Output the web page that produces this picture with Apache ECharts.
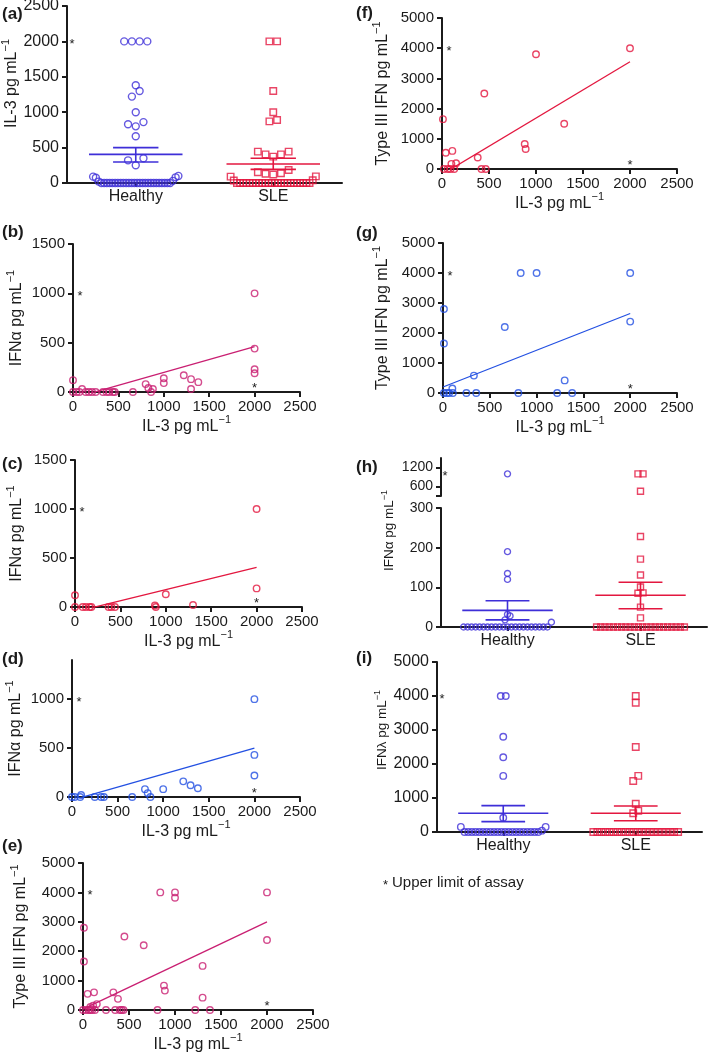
<!DOCTYPE html>
<html><head><meta charset="utf-8">
<script src="https://cdn.jsdelivr.net/npm/echarts@6/dist/echarts.min.js"></script>
<style>html,body{margin:0;padding:0;background:#fff}#c{width:709px;height:1057px}</style>
</head><body><div id="c"></div>
<script>
// ---------------- DATA ----------------
const groups = ['Healthy', 'SLE'];
// (a) IL-3 pg/mL
const il3Healthy = [2000,2000,2000,2000,1380,1300,1220,1000,860,830,800,660,350,320,250,100,90,80,75,30,20,
  0,0,0,0,0,0,0,0,0,0,0,0,0,0,0,0,0,0,0,0,0,0,0,0,0,0];
const il3SLE = [2000,2000,1300,1000,890,870,443,443,405,405,372,184,151,137,130,120,93,90,38,35,
  0,0,0,0,0,0,0,0,0,0,0,0,0,0,0,0,0,0,0,0,0,0,0,0];
const il3Mean = [405, 268], il3SemLo = [297, 193], il3SemHi = [499, 349];
// (h) IFN-alpha pg/mL
const ifnaHealthy = [1000,190,135,120,32,28,18,12,0,0,0,0,0,0,0,0,0,0,0,0,0,0,0,0,0,0,0,0,0,0];
const ifnaSLE = [1000,1000,450,228,171,131,101,86,85,50,23,0,0,0,0,0,0,0,0,0,0,0,0,0,0,0,0,0,0,0,0,0,0];
const ifnaMean = [42, 80], ifnaSemLo = [18, 46], ifnaSemHi = [66, 113];
// (i) IFN-lambda pg/mL
const ifnlHealthy = [4000,4000,2800,2200,1650,420,150,150,40,0,0,0,0,0,0,0,0,0,0,0,0,0,0,0,0,0,0,0,0,0];
const ifnlSLE = [4000,3800,2500,1650,1500,830,620,550,0,0,0,0,0,0,0,0,0,0,0,0,0,0,0,0,0,0,0,0,0,0];
const ifnlMean = [550, 550], ifnlSemLo = [305, 332], ifnlSemHi = [775, 765];
// (b) all, (c) SLE, (d) healthy : [IL-3, IFN-alpha]
const allIl3Ifna = [[0,120],[0,0],[40,0],[70,0],[100,30],[140,0],[175,0],[210,0],[250,0],[330,0],[370,0],[400,0],[440,0],[460,0],[660,0],
  [800,80],[830,40],[860,0],[880,30],[1000,140],[1000,90],[1220,170],[1300,130],[1300,30],[1380,100],[2000,1000],[2000,440],[2000,230],[2000,190]];
const sleIl3Ifna = [[0,120],[0,0],[85,0],[120,0],[160,0],[180,0],[370,0],[400,0],[440,0],[880,15],[890,0],[1000,130],[1300,20],[2000,1000],[2000,190]];
const hcIl3Ifna = [[0,0],[30,0],[90,0],[100,20],[250,0],[320,0],[350,0],[660,0],[800,80],[830,40],[860,0],[1000,80],[1220,160],[1300,120],[1380,90],
  [2000,1000],[2000,430],[2000,220]];
// (e) all, (f) SLE, (g) healthy : [IL-3, type III IFN]
const allIl3Ifnl = [[2000,4000],[2000,2380],[840,4000],[1000,4000],[1000,3820],[450,2500],[660,2200],[10,2800],[10,1650],[1300,1500],[880,830],[890,660],
  [1300,420],[330,600],[380,380],[50,550],[120,600],[150,200],[80,100],[110,150],[0,0],[30,0],[60,0],[80,0],[100,0],[130,0],[250,0],[350,0],[400,0],
  [420,0],[440,0],[810,0],[1220,0],[1380,0]];
const sleIl3Ifnl = [[2000,4000],[1000,3800],[450,2500],[1300,1500],[880,830],[890,660],[380,380],[10,1650],[40,540],[110,600],[150,190],[100,170],
  [20,0],[60,0],[90,0],[130,0],[420,0],[465,0]];
const hcIl3Ifnl = [[830,4000],[1000,4000],[2000,4000],[2000,2380],[660,2200],[10,2800],[10,1650],[330,580],[1300,420],[100,150],
  [10,0],[40,0],[65,0],[105,0],[250,0],[355,0],[805,0],[1220,0],[1380,0]];
// linear fits [IL-3, y] endpoints
const fitAllIfna = [[0,-63],[2000,460]];
const fitSleIfna = [[0,-50],[2000,405]];
const fitHcIfna = [[0,-32],[2000,500]];
const fitAllIfnl = [[0,30],[2000,3000]];
const fitSleIfnl = [[0,-180],[2000,3550]];
const fitHcIfnl = [[0,200],[2000,2650]];
// upper limits of assay
const il3Limit = 2000, ifnaLimit = 1000, ifnlLimit = 4000;

// ---------------- STYLE / LAYOUT ----------------
const FONT = "'Liberation Sans', Arial, Helvetica, sans-serif";
const INK = '#1b1b1b';
const C_VIOLET = '#3e2fd8', C_BLUE = '#2350e2', C_RED = '#e3173f', C_MAG = '#c91f72';
const lineSty = {color: INK, width: 2};
const plain = v => String(v);
const grid = [], xAxis = [], yAxis = [], series = [];
function addGrid(r){ grid.push(Object.assign({containLabel:false, outerBoundsMode:'none'}, r)); return grid.length-1; }
function addX(o){ xAxis.push(o); return xAxis.length-1; }
function addY(o){ yAxis.push(o); return yAxis.length-1; }
function supRich(fs){ return {sup:{fontSize: Math.round(fs*0.7), fontFamily: FONT, color: INK, padding:[0,0,Math.round(fs*0.75),0]}}; }
function nameStyle(fs, extra){ return Object.assign({color: INK, fontFamily: FONT, fontSize: fs, rich: supRich(fs)}, extra||{}); }
function yLabel(fs, extra){ return Object.assign({color: INK, fontFamily: FONT, fontSize: fs, margin: 8, formatter: plain}, extra||{}); }
function yVal(gi, min, max, interval, fs, extra){
  return Object.assign({gridIndex: gi, type:'value', min, max, interval,
    axisLine:{show:true, onZero:false, lineStyle: lineSty}, axisTick:{show:true, length:5, lineStyle: lineSty},
    splitLine:{show:false}, axisLabel: yLabel(fs)}, extra||{});
}
function hollow(color, bw){ return {color:'rgba(255,255,255,0)', borderColor: color, borderWidth: bw||1.4}; }

// GraphPad-like column scatter: rows of near-equal values spread around the category centre
function swarm(values, cat, tol, step, maxHalf){
  const s = values.slice().sort((a,b)=>a-b);
  const rows = []; let cur = null;
  s.forEach(v => { if (cur && v - cur[0] <= tol) cur.push(v); else { cur = [v]; rows.push(cur); } });
  const out = [];
  rows.forEach(row => {
    const n = row.length;
    const st = n > 1 ? Math.min(step, 2*maxHalf/(n-1)) : 0;
    const slots = [];
    for (let i = 0; i < n; i++) slots.push((i-(n-1)/2)*st);
    slots.sort((a,b)=> Math.abs(a)-Math.abs(b) || a-b);
    row.forEach((v,i)=> out.push([cat + slots[i], v]));
  });
  return out;
}
function semSeries(xi, yi, mean, lo, hi, colors){
  return {type:'custom', xAxisIndex: xi, yAxisIndex: yi, z: 5, silent: true, clip: false,
    data: mean.map((m,i)=>[i, m, lo[i], hi[i]]),
    renderItem(params, api){
      const c = api.value(0), col = colors[params.dataIndex];
      const pm = api.coord([c, api.value(1)]), pl = api.coord([c, api.value(2)]), ph = api.coord([c, api.value(3)]);
      const u = api.size([1, 0])[0];
      const st = {stroke: col, lineWidth: 1.6};
      const hl = (p,h)=>({type:'line', shape:{x1:p[0]-h*u, y1:p[1], x2:p[0]+h*u, y2:p[1]}, style: st});
      return {type:'group', children:[hl(pm,0.34), hl(pl,0.165), hl(ph,0.165),
        {type:'line', shape:{x1:pl[0], y1:pl[1], x2:ph[0], y2:ph[1]}, style: st}]};
    }};
}
function catAxis(gi, fs, margin){
  return {gridIndex: gi, type:'category', data: groups, boundaryGap: true,
    axisLine:{show:true, onZero:false, lineStyle: lineSty}, axisTick:{show:true, alignWithLabel:true, length:4, lineStyle: lineSty},
    axisLabel:{color: INK, fontFamily: FONT, fontSize: fs, margin: margin}, splitLine:{show:false}};
}
function hiddenX(gi){ return {gridIndex: gi, type:'value', min:-0.5, max:1.5, show:false}; }

const stars = []; // [xAxisIndex, yAxisIndex, [x,y], dx, dy]

// ---- (a)
(function(){
  const gi = addGrid({left:67, top:6, width:275, height:177});
  addX(catAxis(gi, 16, 6));
  const xv = addX(hiddenX(gi));
  const yi = addY(yVal(gi, 0, 2500, 500, 16, {name:'IL-3 pg mL{sup|−1}', nameLocation:'middle', nameGap:44,
    nameTextStyle: nameStyle(16, {padding:[0,0,0,22]})}));
  const tol = 100, step = 0.056, mh = 0.31;
  series.push({type:'scatter', xAxisIndex: xv, yAxisIndex: yi, clip:false, symbol:'circle', symbolSize:7,
    itemStyle: hollow(C_VIOLET, 1.4), data: swarm(il3Healthy, 0, tol, step, mh)});
  series.push({type:'scatter', xAxisIndex: xv, yAxisIndex: yi, clip:false, symbol:'rect', symbolSize:6.5,
    itemStyle: hollow(C_RED, 1.4), data: swarm(il3SLE, 1, tol, step, mh)});
  series.push(semSeries(xv, yi, il3Mean, il3SemLo, il3SemHi, [C_VIOLET, C_RED]));
  stars.push([xv, yi, [-0.5, il3Limit], 5, 0]);
})();

// ---- scatter panels
function scatterPanel(rect, yMax, yInt, yName, yGap, pts, fit, color, limit, extraY){
  const gi = addGrid(rect);
  const xi = addX({gridIndex: gi, type:'value', min:0, max:2500, interval:500,
    axisLine:{show:true, onZero:false, lineStyle: lineSty}, axisTick:{show:true, length:5, lineStyle: lineSty},
    splitLine:{show:false}, axisLabel:{color: INK, fontFamily: FONT, fontSize: 15, margin: 7, formatter: plain},
    name:'IL-3 pg mL{sup|−1}', nameLocation:'middle', nameGap: 22, nameTextStyle: nameStyle(16)});
  const yi = addY(yVal(gi, 0, yMax, yInt, 15, Object.assign({name: yName, nameLocation:'middle', nameGap: yGap,
    nameTextStyle: nameStyle(16)}, extraY||{})));
  series.push({type:'scatter', xAxisIndex: xi, yAxisIndex: yi, clip:false, symbol:'circle', symbolSize:6.5,
    itemStyle: hollow(color, 1.4), data: pts});
  series.push({type:'line', xAxisIndex: xi, yAxisIndex: yi, data: fit, showSymbol:false, symbol:'none', clip:true,
    lineStyle:{color: color, width: 1.3}});
  stars.push([xi, yi, [0, limit], 7, 0]);
  stars.push([xi, yi, [2000, 0], 0, -7]);
}
const ifnaName = 'IFNα pg mL{sup|−1}', ifnlName = 'Type III IFN pg mL{sup|−1}';
scatterPanel({left:73, top:244, width:227, height:148}, 1500, 500, ifnaName, 45, allIl3Ifna, fitAllIfna, C_MAG, ifnaLimit);
scatterPanel({left:75, top:460, width:227, height:147}, 1500, 500, ifnaName, 47, sleIl3Ifna, fitSleIfna, C_RED, ifnaLimit);
scatterPanel({left:72, top:660, width:228, height:137}, 1400, 500, ifnaName, 45, hcIl3Ifna, fitHcIfna, C_BLUE, ifnaLimit,
  {axisLabel: yLabel(15, {customValues:[0,500,1000]}),
   axisTick:{show:true, length:5, lineStyle: lineSty, customValues:[0,500,1000]}});
scatterPanel({left:83, top:863, width:230, height:147}, 5000, 1000, ifnlName, 51, allIl3Ifnl, fitAllIfnl, C_MAG, ifnlLimit);
scatterPanel({left:442, top:18, width:235, height:151}, 5000, 1000, ifnlName, 48, sleIl3Ifnl, fitSleIfnl, C_RED, ifnlLimit);
scatterPanel({left:443, top:243, width:234, height:150}, 5000, 1000, ifnlName, 49, hcIl3Ifnl, fitHcIfnl, C_BLUE, ifnlLimit);

// ---- (h) broken axis
(function(){
  const brk = 300;
  const gt = addGrid({left:441, top:458, width:266, height:38});
  const xt = addX(hiddenX(gt));
  const yt = addY(yVal(gt, 300, 1500, 300, 14, {
    axisLabel: yLabel(14, {customValues:[600,1200]}),
    axisTick:{show:true, length:5, lineStyle: lineSty, customValues:[300,600,1200]}}));
  const gb = addGrid({left:441, top:508, width:266, height:119});
  addX(catAxis(gb, 16, 6));
  const xb = addX(hiddenX(gb));
  const yb = addY(yVal(gb, 0, 300, 100, 14, {name: ifnaName, nameLocation:'middle', nameGap: 42,
    nameTextStyle: nameStyle(13.5, {padding:[0,0,0,74]})}));
  const hiH = ifnaHealthy.filter(v=>v>brk), loH = ifnaHealthy.filter(v=>v<=brk);
  const hiS = ifnaSLE.filter(v=>v>brk), loS = ifnaSLE.filter(v=>v<=brk);
  const step = 0.038, mh = 0.33;
  series.push({type:'scatter', xAxisIndex: xt, yAxisIndex: yt, clip:false, symbol:'circle', symbolSize:6,
    itemStyle: hollow(C_VIOLET, 1.4), data: swarm(hiH, 0, 160, step, mh)});
  series.push({type:'scatter', xAxisIndex: xt, yAxisIndex: yt, clip:false, symbol:'rect', symbolSize:6,
    itemStyle: hollow(C_RED, 1.4), data: swarm(hiS, 1, 160, step, mh)});
  series.push({type:'scatter', xAxisIndex: xb, yAxisIndex: yb, clip:false, symbol:'circle', symbolSize:6,
    itemStyle: hollow(C_VIOLET, 1.4), data: swarm(loH, 0, 12.6, step, mh)});
  series.push({type:'scatter', xAxisIndex: xb, yAxisIndex: yb, clip:false, symbol:'rect', symbolSize:6,
    itemStyle: hollow(C_RED, 1.4), data: swarm(loS, 1, 12.6, step, mh)});
  series.push(semSeries(xb, yb, ifnaMean, ifnaSemLo, ifnaSemHi, [C_VIOLET, C_RED]));
  stars.push([xt, yt, [-0.5, ifnaLimit], 4, 0]);
})();

// ---- (i)
(function(){
  const gi = addGrid({left:437, top:662, width:265, height:170});
  addX(catAxis(gi, 16, 6));
  const xv = addX(hiddenX(gi));
  const yi = addY(yVal(gi, 0, 5000, 1000, 16, {name:'IFNλ pg mL{sup|−1}', nameLocation:'middle', nameGap: 36,
    nameTextStyle: nameStyle(13.5, {padding:[0,0,0,34]})}));
  const step = 0.038, mh = 0.32;
  series.push({type:'scatter', xAxisIndex: xv, yAxisIndex: yi, clip:false, symbol:'circle', symbolSize:6.5,
    itemStyle: hollow(C_VIOLET, 1.4), data: swarm(ifnlHealthy, 0, 150, step, mh)});
  series.push({type:'scatter', xAxisIndex: xv, yAxisIndex: yi, clip:false, symbol:'rect', symbolSize:6.5,
    itemStyle: hollow(C_RED, 1.4), data: swarm(ifnlSLE, 1, 150, step, mh)});
  series.push(semSeries(xv, yi, ifnlMean, ifnlSemLo, ifnlSemHi, [C_VIOLET, C_RED]));
  stars.push([xv, yi, [-0.5, ifnlLimit], 5, 0]);
})();

const chart = echarts.init(document.getElementById('c'), null, {renderer:'canvas', width:709, height:1057});
chart.setOption({animation:false, backgroundColor:'#fff', grid, xAxis, yAxis, series});

// annotations: asterisks placed through the axes, panel letters, footnote
const gfx = [];
function txt(x, y, text, fs, weight, align){
  gfx.push({type:'text', x, y, z:20, silent:true, style:{text, fontSize: fs, fontFamily: FONT, fontWeight: weight||'normal',
    fill: INK, align: align||'left', textAlign: align||'left', verticalAlign:'middle', textVerticalAlign:'middle'}});
}
stars.forEach(s => {
  const p = chart.convertToPixel({xAxisIndex: s[0], yAxisIndex: s[1]}, s[2]);
  txt(p[0] + s[3], p[1] + s[4] + 3, '*', 13, 'normal', 'center');
});
[['(a)',2,14],['(f)',356,13],['(b)',2,232],['(g)',356,233],['(c)',2,464],['(h)',356,467],['(d)',2,659],['(i)',356,658],['(e)',2,846]]
  .forEach(l => txt(l[1], l[2], l[0], 17, 'bold'));
txt(383, 885, '*', 13, 'normal', 'left');
txt(392, 883, 'Upper limit of assay', 15, 'normal', 'left');
chart.setOption({graphic: gfx});
</script></body></html>
